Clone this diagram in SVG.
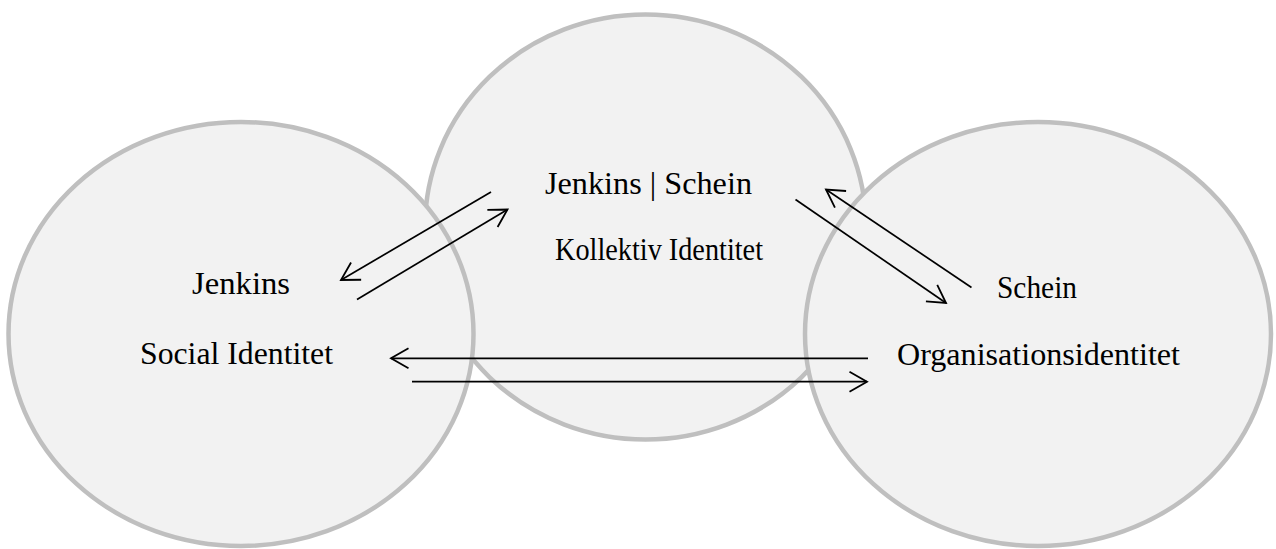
<svg xmlns="http://www.w3.org/2000/svg" width="1276" height="549" viewBox="0 0 1276 549">
<style>
.node ellipse{fill:#f2f2f2;stroke:#bfbfbf;stroke-width:4.5}
.lbl{font-family:"Liberation Serif","Times New Roman",serif;font-size:32px;fill:#000;text-anchor:middle}
.conn line{stroke:#000;stroke-width:1.7;fill:none}
</style>
<defs>
<marker id="ah" markerUnits="userSpaceOnUse" markerWidth="24" markerHeight="24" viewBox="-20 -12 24 24" refX="0" refY="0" orient="auto" overflow="visible">
<path d="M-17.5,-10 L0,0 L-17.5,10" fill="none" stroke="#000" stroke-width="1.8"/>
</marker>
</defs>
<rect width="1276" height="549" fill="#fff"/>
<g id="node-kollektiv" class="node">
<ellipse cx="645.5" cy="227" rx="220.5" ry="212.5"/>
</g>
<g id="node-social" class="node">
<ellipse cx="241" cy="334" rx="232.5" ry="212"/>
</g>
<g id="node-organisation" class="node">
<ellipse cx="1038" cy="334" rx="233" ry="212"/>
</g>
<g id="labels">
<text class="lbl" x="648.5" y="194" textLength="207" lengthAdjust="spacingAndGlyphs">Jenkins | Schein</text>
<text class="lbl" x="659" y="260" textLength="208" lengthAdjust="spacingAndGlyphs">Kollektiv Identitet</text>
<text class="lbl" x="241" y="294" textLength="98" lengthAdjust="spacingAndGlyphs">Jenkins</text>
<text class="lbl" x="236.5" y="364" textLength="193" lengthAdjust="spacingAndGlyphs">Social Identitet</text>
<text class="lbl" x="1037" y="298" textLength="80" lengthAdjust="spacingAndGlyphs">Schein</text>
<text class="lbl" x="1038.5" y="365" textLength="283" lengthAdjust="spacingAndGlyphs">Organisationsidentitet</text>
</g>
<g id="connectors" class="conn">
<line x1="491" y1="192" x2="341" y2="280" marker-end="url(#ah)"/>
<line x1="357" y1="299.5" x2="507.5" y2="209.5" marker-end="url(#ah)"/>
<line x1="971.5" y1="287.5" x2="826" y2="189.5" marker-end="url(#ah)"/>
<line x1="795.5" y1="199.5" x2="946" y2="303" marker-end="url(#ah)"/>
<line x1="868" y1="358.3" x2="391" y2="358.3" marker-end="url(#ah)"/>
<line x1="412" y1="381.7" x2="867" y2="381.7" marker-end="url(#ah)"/>
</g>
</svg>
